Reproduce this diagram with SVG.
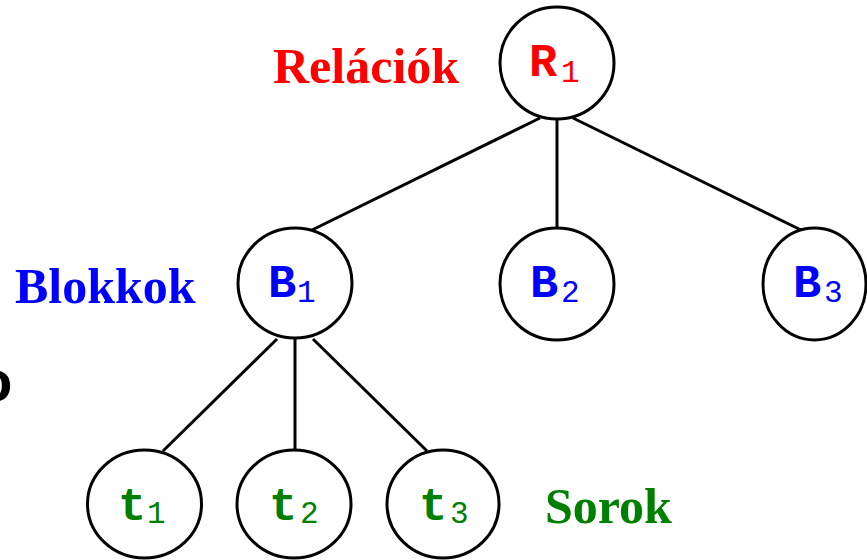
<svg xmlns="http://www.w3.org/2000/svg" width="867" height="560" viewBox="0 0 867 560">
<style>
.node ellipse{fill:#fff;stroke:#000;stroke-width:3}
.m{font-family:"Liberation Mono","Courier New",monospace;font-weight:bold;font-size:47px}
.s{font-family:"Liberation Mono","Courier New",monospace;font-weight:normal;font-size:31px}
.lbl{font-family:"Liberation Serif","Times New Roman",serif;font-weight:bold;font-size:50px}
.red{fill:#ff0000}.blue{fill:#0000ff}.green{fill:#008000}
#edges line{stroke:#000;stroke-width:3}
</style>
<rect width="867" height="560" fill="#fff"/>
<g id="edges">
<line x1="540" y1="118" x2="312" y2="230"/>
<line x1="557" y1="119" x2="557" y2="228"/>
<line x1="573" y1="118" x2="803" y2="231"/>
<line x1="277" y1="339" x2="163" y2="451"/>
<line x1="295" y1="339" x2="295" y2="450"/>
<line x1="313" y1="339" x2="427" y2="451"/>
</g>
<g id="R1" class="node"><ellipse cx="557" cy="63" rx="57" ry="56"/><text class="m red" x="529" y="76">R</text><text class="s red" x="561" y="82">1</text></g>
<g id="B1" class="node"><ellipse cx="295" cy="283" rx="57" ry="55"/><text class="m blue" x="268" y="297">B</text><text class="s blue" x="297" y="302">1</text></g>
<g id="B2" class="node"><ellipse cx="557" cy="284" rx="57" ry="56"/><text class="m blue" x="530" y="297">B</text><text class="s blue" x="561" y="302">2</text></g>
<g id="B3" class="node"><ellipse cx="814.5" cy="284" rx="51.5" ry="56"/><text class="m blue" x="793" y="297">B</text><text class="s blue" x="824" y="302">3</text></g>
<g id="t1" class="node"><ellipse cx="144.5" cy="504" rx="57" ry="54"/><text class="m green" x="118" y="520">t</text><text class="s green" x="147" y="523">1</text></g>
<g id="t2" class="node"><ellipse cx="294" cy="504" rx="57" ry="54"/><text class="m green" x="269" y="520">t</text><text class="s green" x="300" y="523">2</text></g>
<g id="t3" class="node"><ellipse cx="443" cy="504" rx="56" ry="54"/><text class="m green" x="419" y="520">t</text><text class="s green" x="450" y="523">3</text></g>
<text class="lbl red" x="273" y="83">Relációk</text>
<text class="lbl blue" x="15" y="303">Blokkok</text>
<text class="lbl green" x="545" y="523">Sorok</text>
<text x="-23" y="401" font-family="Liberation Sans, Arial, sans-serif" font-weight="bold" font-size="58">o</text>
</svg>
